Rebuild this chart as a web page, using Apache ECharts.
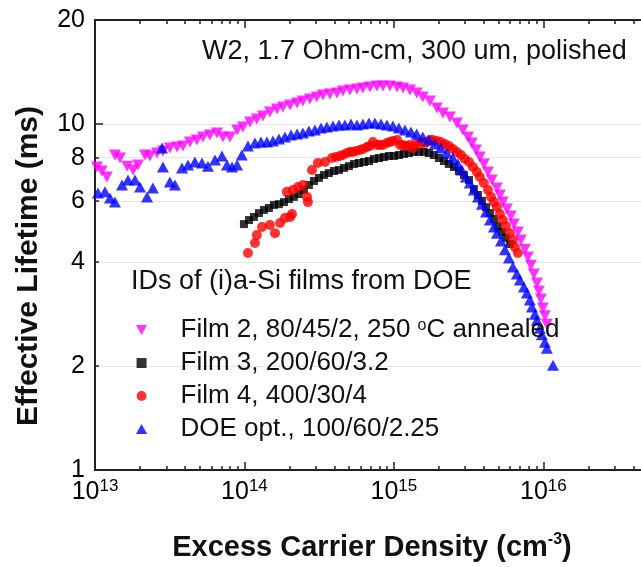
<!DOCTYPE html>
<html>
<head>
<meta charset="utf-8">
<script src="https://cdn.jsdelivr.net/npm/echarts@6/dist/echarts.min.js"></script>
<style>
html, body { margin: 0; padding: 0; background: #fff; }
#chart { width: 641px; height: 567px; }
</style>
</head>
<body>
<div id="chart"></div>
<script>
// excess carrier density (cm-3) vs effective lifetime (ms)
var film2 = [
	[1.03e13, 7.52], [1.11e13, 7.32], [1.2e13, 7.03], [1.36e13, 8.14], [1.47e13, 7.98], [1.64e13, 7.56],
	[1.8e13, 7.37], [1.94e13, 7.62], [2.16e13, 8.14], [2.33e13, 8.09], [2.6e13, 8.25], [2.85e13, 8.36],
	[3.17e13, 8.53], [3.54e13, 8.59], [3.88e13, 8.65], [4.32e13, 8.88], [4.8e13, 9.0], [5.28e13, 9.18],
	[5.87e13, 9.3], [6.55e13, 9.43], [7.18e13, 9.18], [8.0e13, 9.18], [8.93e13, 9.62], [9.77e13, 9.81],
	[1.09e14, 10.14], [1.21e14, 10.34], [1.33e14, 10.55], [1.48e14, 10.84], [1.65e14, 11.06], [1.81e14, 11.21],
	[2.02e14, 11.36], [2.25e14, 11.51], [2.46e14, 11.66], [2.74e14, 11.82], [3.05e14, 11.98], [3.35e14, 12.14],
	[3.73e14, 12.22], [4.16e14, 12.3], [4.56e14, 12.47], [5.08e14, 12.55], [5.66e14, 12.64], [6.2e14, 12.72],
	[6.91e14, 12.81], [7.7e14, 12.89], [8.44e14, 12.89], [9.4e14, 12.89], [1.05e15, 12.81], [1.15e15, 12.72],
	[1.28e15, 12.55], [1.42e15, 12.3], [1.56e15, 11.98], [1.74e15, 11.66], [1.94e15, 11.13], [2.13e15, 10.77],
	[2.37e15, 10.48], [2.64e15, 10.07], [2.89e15, 9.62], [3.13e15, 9.18], [3.32e15, 8.82], [3.54e15, 8.42],
	[3.76e15, 8.03], [4.0e15, 7.67], [4.26e15, 7.27], [4.52e15, 6.89], [4.89e15, 6.54], [5.12e15, 6.24],
	[5.36e15, 5.95], [5.7e15, 5.68], [6.06e15, 5.42], [6.35e15, 5.14], [6.75e15, 4.88], [7.07e15, 4.62],
	[7.52e15, 4.35], [7.88e15, 4.13], [8.25e15, 3.91], [8.64e15, 3.69], [9.05e15, 3.47], [9.33e15, 3.29],
	[9.62e15, 3.12], [9.92e15, 2.94], [1.023e16, 2.79], [1.055e16, 2.64]
];
var film3 = [
	[9.92e13, 5.14], [1.072e14, 5.28], [1.157e14, 5.39], [1.25e14, 5.53], [1.35e14, 5.65], [1.458e14, 5.72],
	[1.575e14, 5.84], [1.7e14, 5.87], [1.837e14, 5.95], [1.984e14, 6.07], [2.14e14, 6.16], [2.31e14, 6.28],
	[2.5e14, 6.45], [2.7e14, 6.67], [2.92e14, 6.85], [3.15e14, 6.99], [3.4e14, 7.13], [3.67e14, 7.22],
	[3.97e14, 7.32], [4.29e14, 7.37], [4.63e14, 7.47], [5.0e14, 7.56], [5.4e14, 7.67], [5.83e14, 7.72],
	[6.3e14, 7.77], [6.81e14, 7.82], [7.35e14, 7.93], [7.94e14, 7.98], [8.57e14, 8.03], [9.26e14, 8.09],
	[1.0e15, 8.09], [1.08e15, 8.14], [1.167e15, 8.2], [1.26e15, 8.25], [1.36e15, 8.31], [1.47e15, 8.31],
	[1.588e15, 8.31], [1.714e15, 8.25], [1.85e15, 8.14], [2.0e15, 7.98], [2.16e15, 7.82], [2.33e15, 7.67],
	[2.52e15, 7.52], [2.72e15, 7.32], [2.94e15, 7.13], [3.18e15, 6.89], [3.43e15, 6.49], [3.65e15, 6.24],
	[3.88e15, 6.0], [4.13e15, 5.75], [4.39e15, 5.53], [4.67e15, 5.32], [4.96e15, 5.07], [5.28e15, 4.88],
	[5.61e15, 4.69], [5.97e15, 4.5]
];
var film4 = [
	[1.055e14, 4.24], [1.175e14, 4.53], [1.21e14, 4.78], [1.31e14, 5.04], [1.48e14, 5.11], [1.6e14, 4.84],
	[1.73e14, 5.18], [1.866e14, 5.35], [2.02e14, 5.39], [2.08e14, 5.5], [1.92e14, 6.37], [2.11e14, 6.45],
	[2.28e14, 6.58], [2.46e14, 6.67], [2.62e14, 6.16], [2.66e14, 5.95], [2.83e14, 7.37], [3.1e14, 7.72],
	[3.46e14, 7.77], [3.85e14, 7.98], [4.09e14, 8.03], [4.35e14, 8.09], [4.56e14, 8.14], [4.85e14, 8.25],
	[5.08e14, 8.31], [5.32e14, 8.31], [5.57e14, 8.36], [5.92e14, 8.42], [6.2e14, 8.47], [6.6e14, 8.59],
	[6.91e14, 8.65], [7.24e14, 8.88], [7.7e14, 8.7], [8.06e14, 8.7], [8.44e14, 8.7], [8.98e14, 8.82],
	[9.4e14, 8.88], [9.85e14, 8.94], [1.05e15, 9.0], [1.1e15, 8.7], [1.15e15, 8.7], [1.22e15, 8.65],
	[1.28e15, 8.7], [1.34e15, 8.53], [1.42e15, 8.82], [1.49e15, 8.76], [1.61e15, 8.82], [1.66e15, 8.88],
	[1.74e15, 9.0], [1.82e15, 9.0], [1.94e15, 8.94], [2.06e15, 8.88], [2.19e15, 8.76], [2.33e15, 8.65],
	[2.48e15, 8.47], [2.64e15, 8.31], [2.81e15, 8.14], [2.98e15, 7.93], [3.18e15, 7.77], [3.38e15, 7.52],
	[3.59e15, 7.27], [3.76e15, 7.03], [4.0e15, 6.76], [4.26e15, 6.45], [4.46e15, 6.16], [4.67e15, 5.95],
	[4.89e15, 5.76], [5.12e15, 5.5], [5.36e15, 5.28], [5.61e15, 5.07], [5.97e15, 4.84], [6.25e15, 4.62],
	[6.45e15, 4.41], [6.75e15, 4.24]
];
var doeOpt = [
	[1.047e13, 6.32], [1.166e13, 6.37], [1.26e13, 6.11], [1.36e13, 5.95], [1.516e13, 6.67], [1.662e13, 6.89],
	[1.852e13, 6.89], [2.0e13, 6.58], [2.23e13, 6.16], [2.44e13, 6.54], [2.81e13, 8.53], [2.85e13, 7.52],
	[3.17e13, 6.8], [3.43e13, 6.67], [3.82e13, 7.47], [4.19e13, 7.62], [4.66e13, 7.77], [5.2e13, 7.72],
	[5.7e13, 7.56], [6.35e13, 7.88], [7.07e13, 8.09], [7.64e13, 7.62], [8.26e13, 7.52], [8.93e13, 7.62],
	[9.6e13, 8.14], [1.055e14, 8.65], [1.175e14, 8.82], [1.29e14, 8.88], [1.414e14, 8.88], [1.55e14, 8.94],
	[1.7e14, 9.06], [1.866e14, 9.18], [2.05e14, 9.3], [2.25e14, 9.36], [2.46e14, 9.43], [2.7e14, 9.55],
	[2.96e14, 9.62], [3.25e14, 9.74], [3.56e14, 9.81], [3.91e14, 9.87], [4.29e14, 9.94], [4.7e14, 9.94],
	[5.16e14, 10.0], [5.66e14, 9.94], [6.2e14, 10.0], [6.81e14, 10.07], [7.46e14, 10.07], [8.19e14, 10.0],
	[8.98e14, 9.94], [9.85e14, 9.87], [1.08e15, 9.74], [1.185e15, 9.62], [1.3e15, 9.49], [1.42e15, 9.36],
	[1.56e15, 9.18], [1.714e15, 9.0], [1.88e15, 8.76], [2.06e15, 8.53], [2.26e15, 8.25], [2.48e15, 7.98],
	[2.68e15, 7.67], [2.85e15, 7.37], [3.03e15, 7.03], [3.22e15, 6.76], [3.43e15, 6.45], [3.65e15, 6.16],
	[3.88e15, 5.87], [4.13e15, 5.57], [4.39e15, 5.28], [4.67e15, 5.04], [4.89e15, 4.84], [5.2e15, 4.59],
	[5.53e15, 4.33], [5.88e15, 4.1], [6.25e15, 3.86], [6.65e15, 3.69], [6.96e15, 3.54], [7.41e15, 3.38],
	[7.76e15, 3.25], [8.12e15, 3.1], [8.38e15, 2.96], [8.77e15, 2.82], [9.05e15, 2.71], [9.47e15, 2.57],
	[9.77e15, 2.46], [1.023e16, 2.34], [1.055e16, 2.25], [1.16e16, 2.01]
];

var seriesNames = [
	'Film 2, 80/45/2, 250 °C annealed',
	'Film 3, 200/60/3.2',
	'Film 4, 400/30/4',
	'DOE opt., 100/60/2.25'
];
var legendRich = [
	'{n|Film 2, 80/45/2, 250 }{s|o}{n|C annealed}',
	'{n|Film 3, 200/60/3.2}',
	'{n|Film 4, 400/30/4}',
	'{n|DOE opt., 100/60/2.25}'
];
var xDecades = [1e13, 1e14, 1e15, 1e16];
var yLabels = [1, 2, 4, 6, 8, 10, 20];
var yMajorTicks = [10];
var yMinorTicks = [2, 4, 6, 8];

var FONT = 'Arial';
var X_MIN = 1e13, X_MAX = 4.5e16;
var xMinorTicks = [];
for (var d = 0; d < xDecades.length; d++) {
	for (var k = 2; k <= 9; k++) {
		xMinorTicks.push(k * xDecades[d]);
	}
}

// marker shapes (paths so the legend keeps them square)
var SYM_DOWN = 'path://M0,0L10,0L5,9Z';
var SYM_UP = 'path://M5,0L10,9L0,9Z';
var SYM_SQUARE = 'path://M0,0L8,0L8,8L0,8Z';
var SYM_CIRCLE = 'path://M5,0A5,5 0 1,1 5,10A5,5 0 1,1 5,0Z';

/**
 * one log x axis; several stacked on the same side give long and short ticks
 */
function xAxisFor(position, ticks, len, withLine, withLabels) {
	return {
		type: 'log',
		logBase: 10,
		min: X_MIN,
		max: X_MAX,
		position: position,
		axisLine: { show: withLine, lineStyle: { color: '#222', width: 2 } },
		axisTick: { show: true, inside: true, length: len, customValues: ticks, lineStyle: { color: '#222', width: 1.5 } },
		axisLabel: {
			show: withLabels,
			customValues: xDecades,
			margin: 8,
			color: '#000',
			formatter: function (v) {
				return '{b|10}{s|' + Math.round(Math.log10(v)) + '}';
			},
			rich: {
				b: { fontFamily: FONT, fontSize: 25, lineHeight: 28, color: '#000' },
				s: { fontFamily: FONT, fontSize: 17, lineHeight: 17, verticalAlign: 'top', color: '#000' }
			}
		},
		splitLine: { show: false }
	};
}

function yAxisFor(ticks, len, withLine, withLabels) {
	return {
		type: 'log',
		logBase: 10,
		min: 1,
		max: 20,
		position: 'left',
		axisLine: { show: withLine, lineStyle: { color: '#222', width: 2 } },
		axisTick: { show: true, inside: true, length: len, customValues: ticks, lineStyle: { color: '#222', width: 1.5 } },
		axisLabel: {
			show: withLabels,
			customValues: yLabels,
			margin: 10,
			color: '#000',
			fontFamily: FONT,
			fontSize: 25,
			formatter: function (v) { return String(Math.round(v)); }
		},
		splitLine: { show: true, lineStyle: { color: '#e6e6e6', width: 1 } }
	};
}

var chart = echarts.init(document.getElementById('chart'));
var option = {
	animation: false,
	backgroundColor: '#fff',
	grid: { left: 95, top: 20, right: 0, bottom: 97 },
	xAxis: [
		xAxisFor('bottom', xDecades, 8, true, true),
		xAxisFor('bottom', xMinorTicks, 4, false, false),
		xAxisFor('top', xDecades, 8, true, false),
		xAxisFor('top', xMinorTicks, 4, false, false)
	],
	yAxis: [
		yAxisFor(yMajorTicks, 8, true, true),
		yAxisFor(yMinorTicks, 4, false, false)
	],
	legend: {
		orient: 'vertical',
		left: 131,
		top: 312,
		itemWidth: 68,
		itemHeight: 10,
		itemGap: 7,
		symbolKeepAspect: true,
		data: [
			{ name: seriesNames[0], icon: SYM_DOWN },
			{ name: seriesNames[1], icon: SYM_SQUARE },
			{ name: seriesNames[2], icon: SYM_CIRCLE },
			{ name: seriesNames[3], icon: SYM_UP }
		],
		formatter: function (name) {
			return legendRich[seriesNames.indexOf(name)];
		},
		textStyle: {
			fontFamily: FONT,
			fontSize: 26,
			color: '#111',
			lineHeight: 24,
			rich: {
				n: { fontFamily: FONT, fontSize: 26, lineHeight: 24, color: '#111' },
				s: { fontFamily: FONT, fontSize: 16, lineHeight: 13, verticalAlign: 'top', color: '#111' }
			}
		}
	},
	graphic: [
		{
			type: 'text', x: 202, y: 52,
			style: { text: 'W2, 1.7 Ohm-cm, 300 um, polished', font: '27px Arial', fill: '#111', align: 'left', verticalAlign: 'middle' }
		},
		{
			type: 'text', x: 131, y: 282,
			style: { text: 'IDs of (i)a-Si films from DOE', font: '27px Arial', fill: '#111', align: 'left', verticalAlign: 'middle' }
		},
		{
			type: 'text', x: 29, y: 266, rotation: Math.PI / 2,
			style: { text: 'Effective Lifetime (ms)', font: 'bold 30px Arial', fill: '#111', align: 'center', verticalAlign: 'middle' }
		},
		{
			type: 'text', x: 372, y: 548,
			style: {
				text: '{t|Excess Carrier Density (cm}{s|-3}{t|)}',
				align: 'center', verticalAlign: 'middle',
				rich: {
					t: { font: 'bold 29px Arial', fill: '#111', lineHeight: 32 },
					s: { font: 'bold 16px Arial', fill: '#111', lineHeight: 16, verticalAlign: 'top' }
				}
			}
		}
	],
	series: [
		{
			name: seriesNames[0], type: 'scatter', data: film2,
			symbol: SYM_DOWN, symbolSize: [12, 11],
			itemStyle: { color: '#ff00ff' }
		},
		{
			name: seriesNames[1], type: 'scatter', data: film3,
			symbol: 'rect', symbolSize: 8,
			itemStyle: { color: '#000000' }
		},
		{
			name: seriesNames[2], type: 'scatter', data: film4,
			symbol: 'circle', symbolSize: 10,
			itemStyle: { color: '#ff0000' }
		},
		{
			name: seriesNames[3], type: 'scatter', data: doeOpt,
			symbol: 'triangle', symbolSize: [12, 11],
			itemStyle: { color: '#0000ff' }
		}
	]
};
chart.setOption(option);
</script>
</body>
</html>
